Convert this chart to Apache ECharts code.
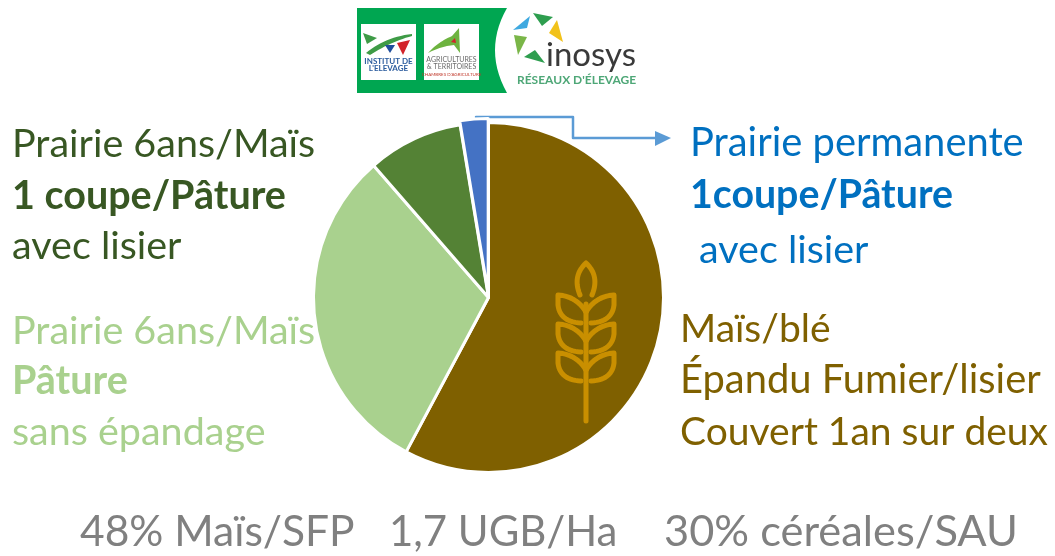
<!DOCTYPE html>
<html><head><meta charset="utf-8">
<style>html,body{margin:0;padding:0;background:#fff}#c{width:1055px;height:556px}</style>
<script src="https://cdn.jsdelivr.net/npm/echarts@6/dist/echarts.min.js"></script>
</head><body><div id="c"></div>
<script>
const categories = ["Maïs/blé","Prairie 6ans/Maïs Pâture","Prairie 6ans/Maïs 1 coupe/Pâture","Prairie permanente 1coupe/Pâture"];
const values = [57.8, 30.8, 8.8, 2.6];
const colors = ["#7F6000","#A9D18E","#548235","#4472C4"];
const footer = ["48% Maïs/SFP","1,7 UGB/Ha","30% céréales/SAU"];
const FONT = "Lato, 'Open Sans', sans-serif";

function txt(x, y, text, fill, size, bold, extra) {
  return { type:'text', x, y, silent:true, style:Object.assign({
    text, fill, font:(bold?'bold ':'')+size+'px '+FONT, textVerticalAlign:'middle', textBaseline:'middle'
  }, extra||{}) };
}
// turns a small M/L/Q/Z description into polyline or polygon points
function flatten(d) {
  const t = d.match(/[MLQZ]|-?[\d.]+/g), pts = [];
  let i = 0, cmd = '';
  while (i < t.length) {
    if (/[MLQZ]/.test(t[i])) { cmd = t[i++]; if (cmd === 'Z') continue; }
    if (cmd === 'Q') {
      const p0 = pts[pts.length-1], cx=+t[i], cy=+t[i+1], x=+t[i+2], y=+t[i+3]; i += 4;
      for (let k=1;k<=14;k++){ const u=k/14, v=1-u;
        pts.push([v*v*p0[0]+2*u*v*cx+u*u*x, v*v*p0[1]+2*u*v*cy+u*u*y]); }
    } else { pts.push([+t[i],+t[i+1]]); i += 2; }
  }
  return pts;
}
function path(d, stroke, width, fill) {
  const points = flatten(d);
  if (fill) return { type:'polygon', silent:true, shape:{points}, style:{fill} };
  return { type:'polyline', silent:true, shape:{points}, style:{stroke, lineWidth:width, fill:null, lineCap:'round', lineJoin:'round'} };
}
const wheat = "#C98F00";
const g = [];
const S = 39.5;
[["Prairie 6ans/Maïs",12,144,false],["1 coupe/Pâture",12,196,true],["avec lisier",12,246,false]].forEach(a=>g.push(txt(a[1],a[2],a[0],"#385723",S,a[3])));
[["Prairie 6ans/Maïs",12,331,false],["Pâture",12,381,true],["sans épandage",12,432,false]].forEach(a=>g.push(txt(a[1],a[2],a[0],"#A9D18E",S,a[3])));
[["Prairie permanente",690,143,false,39.9],["1coupe/Pâture",690,195,true,39.3],["avec lisier",699,250,false,39.5]].forEach(a=>g.push(txt(a[1],a[2],a[0],"#0070C0",a[4],a[3])));
[["Maïs/blé",680,329,39],["Épandu Fumier/lisier",680,380,39.9],["Couvert 1an sur deux",680,432,39]].forEach(a=>g.push(txt(a[1],a[2],a[0],"#7F6000",a[3],false)));
const footerSizes = [42.5,41.9,43.4];
[80,389,664].forEach((x,i)=>g.push(txt(x,532,footer[i],"#808080",footerSizes[i],false)));

// connector arrow
g.push(path("M476 117 L573 117 L573 138 L655 138","#5B9BD5",2.5));
g.push(path("M655 131 L671 138 L655 146 Z",null,0,"#5B9BD5"));

// logo
g.push(path("M357 8 L507 8 Q483 50 507 93 L357 93 Z",null,0,"#00A651"));
g.push({type:'rect',silent:true,shape:{x:361,y:24,width:55,height:56},style:{fill:"#fff"}});
g.push({type:'rect',silent:true,shape:{x:424,y:24,width:55,height:56},style:{fill:"#fff"}});
g.push(path("M363 33 L377 38 L367 44 Z",null,0,"#3E9B46"));
g.push(path("M366 53 Q385 37 412 34 L412 36 Q390 42 370 55 Z",null,0,"#3E9B46"));
g.push(path("M385 45 L395 45 L390 53 Z",null,0,"#1F4E9C"));
g.push(path("M397 43 L410 40 L403 55 Z",null,0,"#D2232A"));
g.push(txt(388.5,61,"INSTITUT DE","#2B5C9E",8,true,{align:'center',textAlign:'center'}));
g.push(txt(388.5,68.5,"L'ELEVAGE","#2B5C9E",8,true,{align:'center',textAlign:'center'}));
g.push(path("M428 53 Q438 42 452 36 L459 28 L460 53 L454 45 Q442 46 428 53 Z",null,0,"#6DB33F"));
g.push(path("M451 42 L455 38 L456 43 Z",null,0,"#D2232A"));
g.push(txt(451.5,60,"AGRICULTURES","#6B6B6B",7,false,{align:'center',textAlign:'center'}));
g.push(txt(451.5,67,"& TERRITOIRES","#6B6B6B",7,false,{align:'center',textAlign:'center'}));
g.push(txt(451.5,75,"CHAMBRES D'AGRICULTURE","#C0392B",4.5,false,{align:'center',textAlign:'center'}));
g.push(path("M533 13 L553 17 L542 26 Z",null,0,"#2E9E4F"));
g.push(path("M513 30 L530 16 L527 28 Z",null,0,"#3FA9E0"));
g.push(path("M557 20 L563 42 L549 33 Z",null,0,"#F2C21A"));
g.push(path("M514 35 L527 37 L518 55 Z",null,0,"#7AB648"));
g.push(path("M524 57 L535 50 L545 63 Z",null,0,"#2E9E4F"));
g.push(txt(546,55,"inosys","#3A3A3A",33,false));
g.push(txt(517,80,"RÉSEAUX D'ÉLEVAGE","#4EA777",12,true));

// wheat icon
const wheatParts = [
  "M586 304 L586 421",
  "M580 295 Q572 276 586 263 Q600 276 592 295"
];
[0,29,58].forEach(o=>{
  wheatParts.push(`M586 ${312+o} Q576 ${296+o} 558 ${295+o} L558 ${305+o} Q560 ${322+o} 581 ${323+o}`);
  wheatParts.push(`M586 ${312+o} Q596 ${296+o} 614 ${295+o} L614 ${305+o} Q612 ${322+o} 591 ${323+o}`);
});
const overlay = wheatParts.map(d=>{const p=path(d,wheat,5);p.z=10;return p;});

const chart = echarts.init(document.getElementById('c'), null, {renderer:'canvas'});
chart.setOption({
  animation:false,
  backgroundColor:'#fff',
  textStyle:{fontFamily:FONT},
  series:[{
    type:'pie', center:[488.5,297.5], radius:[0,175], startAngle:90, clockwise:true,
    selectedMode:'multiple', selectedOffset:4, silent:true,
    label:{show:false}, labelLine:{show:false},
    itemStyle:{borderColor:'#fff',borderWidth:3},
    data:categories.map((name,i)=>({name,value:values[i],selected:i===3,
      itemStyle:{color:colors[i]}}))
  }],
  graphic:{elements:g.concat(overlay)}
});
</script></body></html>
